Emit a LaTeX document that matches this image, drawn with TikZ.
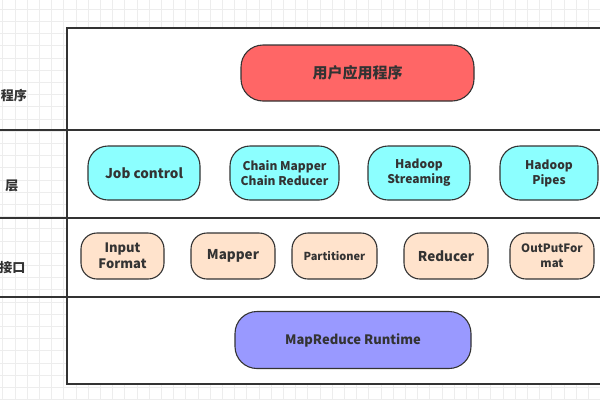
\documentclass[tikz,border=0pt]{standalone}
\usepackage{fontspec}
\setmainfont{Noto Sans CJK SC}
\definecolor{gridc}{HTML}{EDEDED}
\definecolor{linec}{HTML}{333333}
\definecolor{txtc}{HTML}{333333}
\definecolor{redc}{HTML}{FF6666}
\definecolor{cyanc}{HTML}{8CFFFF}
\definecolor{peachc}{HTML}{FFE3CC}
\definecolor{purplec}{HTML}{9999FF}
\begin{document}
\begin{tikzpicture}[x=1pt,y=-1pt,
  pill/.style={draw=linec, line width=1.1pt, rounded corners=18pt, align=center,
    text=txtc, font=\bfseries, inner sep=0pt},
  sidelabel/.style={anchor=east, text=txtc, font=\fontsize{13}{15}\selectfont\bfseries, inner sep=0pt},
  sep/.style={draw=linec, line width=1.3pt}]
\useasboundingbox (0,0) rectangle (600,400);
\fill[white] (0,0) rectangle (600,400);
\foreach \i in {0,...,49} {
  \draw[gridc, line width=0.8pt] ({2.7+12.2*\i},0) -- ({2.7+12.2*\i},400);
  \draw[gridc, line width=0.8pt] (0,{9.2+12.2*\i}) -- (600,{9.2+12.2*\i});
}
\draw[sep, fill=white] (67,28) rectangle (612,384);
\draw[sep] (0,130) -- (600,130);
\draw[sep] (0,218) -- (600,218);
\draw[sep] (0,297) -- (600,297);
% side labels
\node[sidelabel] (l1) at (27,96) {程序};
\node[sidelabel] (l2) at (18.5,186) {层};
\node[sidelabel] (l3) at (25.5,268) {接口};
% top
\node[pill, fill=redc, minimum width=233pt, minimum height=56pt, rounded corners=22pt,
  font=\fontsize{15}{17}\selectfont\bfseries] (app) at (357.5,73) {用户应用程序};
% tools layer
\node[pill, fill=cyanc, minimum width=112pt, minimum height=54pt, rounded corners=20pt,
  font=\fontsize{13.5}{16}\selectfont\bfseries] (job) at (144,173) {Job control};
\node[pill, fill=cyanc, minimum width=109pt, minimum height=54pt, rounded corners=20pt,
  font=\fontsize{12}{15}\selectfont\bfseries] (chain) at (284.5,173) {Chain Mapper\\Chain Reducer};
\node[pill, fill=cyanc, minimum width=102pt, minimum height=54pt, rounded corners=20pt,
  font=\fontsize{12}{15}\selectfont\bfseries] (stream) at (419,173) {Hadoop\\Streaming};
\node[pill, fill=cyanc, minimum width=98pt, minimum height=54pt, rounded corners=20pt,
  font=\fontsize{12}{15}\selectfont\bfseries] (pipes) at (549,173) {Hadoop\\Pipes};
% interface layer
\node[pill, fill=peachc, minimum width=83pt, minimum height=46pt, rounded corners=16pt,
  font=\fontsize{13}{16}\selectfont\bfseries] (inf) at (122.5,256) {Input\\Format};
\node[pill, fill=peachc, minimum width=84pt, minimum height=46pt, rounded corners=16pt,
  font=\fontsize{13.5}{16}\selectfont\bfseries] (map) at (233,256) {Mapper};
\node[pill, fill=peachc, minimum width=85pt, minimum height=46pt, rounded corners=16pt,
  font=\fontsize{11}{14}\selectfont\bfseries] (part) at (334.5,256) {Partitioner};
\node[pill, fill=peachc, minimum width=84pt, minimum height=46pt, rounded corners=16pt,
  font=\fontsize{13.5}{16}\selectfont\bfseries] (red) at (446,256) {Reducer};
\node[pill, fill=peachc, minimum width=84pt, minimum height=46pt, rounded corners=16pt,
  font=\fontsize{11.5}{15}\selectfont\bfseries] (outf) at (552,256) {OutPutFor\\mat};
% runtime
\node[pill, fill=purplec, minimum width=236pt, minimum height=57pt, rounded corners=22pt,
  font=\fontsize{13}{16}\selectfont\bfseries] (rt) at (353,340) {MapReduce Runtime};
\end{tikzpicture}
\end{document}
